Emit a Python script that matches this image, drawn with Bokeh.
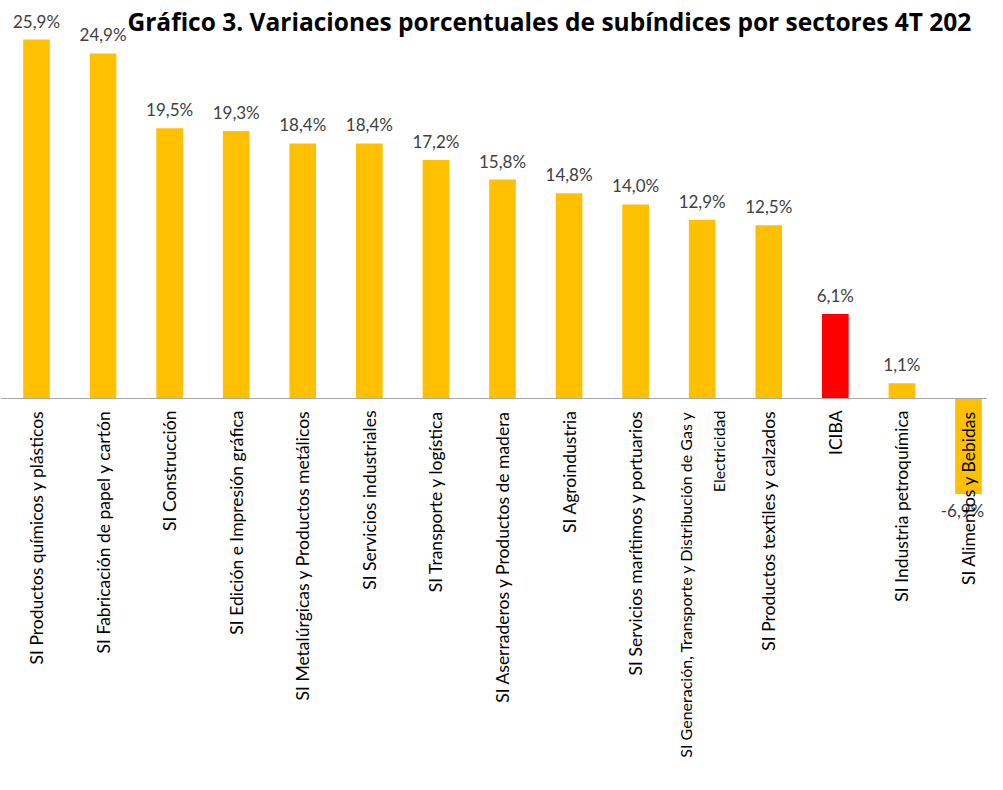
from math import pi
from bokeh.plotting import figure
from bokeh.models import ColumnDataSource, Range1d, Span, Label
from bokeh.core.properties import value
from bokeh.embed import file_html
from bokeh.resources import INLINE

title_text = "Gráfico 3. Variaciones porcentuales de subíndices por sectores 4T 202"

categories = [
    "SI Productos químicos y plásticos",
    "SI Fabricación de papel y cartón",
    "SI Construcción",
    "SI Edición e Impresión gráfica",
    "SI Metalúrgicas y Productos metálicos",
    "SI Servicios industriales",
    "SI Transporte y logística",
    "SI Aserraderos y Productos de madera",
    "SI Agroindustria",
    "SI Servicios marítimos y portuarios",
    "SI Generación, Transporte y Distribución de Gas y\nElectricidad",
    "SI Productos textiles y calzados",
    "ICIBA",
    "SI Industria petroquímica",
    "SI Alimentos y Bebidas",
]
values = [25.9, 24.9, 19.5, 19.3, 18.4, 18.4, 17.2, 15.8, 14.8, 14.0, 12.9, 12.5, 6.1, 1.1, -6.9]

GOLD = "#FFC000"
RED = "#FF0000"

xs = list(range(len(categories)))
colors = [RED if c == "ICIBA" else GOLD for c in categories]
labels = [f"{v:.1f}".replace(".", ",") + "%" for v in values]
# long wrapped label gets a slightly smaller size so it stays inside the page
cat_sizes = ["16px" if "\n" in c else "17.5px" for c in categories]

pos = [i for i, v in enumerate(values) if v >= 0]
neg = [i for i, v in enumerate(values) if v < 0]

src_all = ColumnDataSource(dict(x=xs, top=values, color=colors, cat=categories))
src_pos = ColumnDataSource(dict(x=[xs[i] for i in pos], y=[values[i] for i in pos], lab=[labels[i] for i in pos]))
src_neg = ColumnDataSource(dict(x=[xs[i] for i in neg], y=[values[i] for i in neg], lab=[labels[i] for i in neg]))
src_cat = ColumnDataSource(dict(x=xs, y=[0] * len(xs), cat=categories, size=cat_sizes))

W, H = 987, 774
p = figure(width=W, height=H, output_backend="svg", toolbar_location=None,
           x_range=Range1d(-0.5408, 14.286), y_range=Range1d(-27.13, 28.716),
           min_border=0, min_border_left=0, min_border_right=0, min_border_top=0, min_border_bottom=0)
p.axis.visible = False
p.grid.visible = False
p.outline_line_color = None
p.background_fill_color = "white"
p.border_fill_color = "white"

p.vbar(x="x", top="top", bottom=0, width=0.4, fill_color="color", line_color=None, source=src_all)

zero = Span(location=0, dimension="width", line_color="#A6A6A6", line_width=1)
p.add_layout(zero)

font = value("Lato")
p.text(x="x", y="y", text="lab", source=src_pos, text_align="center", text_baseline="bottom",
       y_offset=-8, text_font=font, text_font_size="17px", text_color="#404040")
p.text(x="x", y="y", text="lab", source=src_neg, text_align="center", text_baseline="top",
       y_offset=6, x_offset=-6, text_font=font, text_font_size="17px", text_color="#404040")

p.text(x="x", y="y", text="cat", source=src_cat, angle=pi / 2, text_align="right",
       text_baseline="middle", y_offset=12, text_font=font, text_font_size="size",
       text_color="#000000", text_line_height=1.75)

title = Label(x=127, y=H - 21, x_units="screen", y_units="screen", text=title_text,
              text_font="Open Sans", text_font_style="bold", text_font_size="24.5px",
              text_baseline="alphabetic", text_align="left", text_color="#000000")
p.add_layout(title)

open("out.html", "w").write(file_html(p, INLINE))
